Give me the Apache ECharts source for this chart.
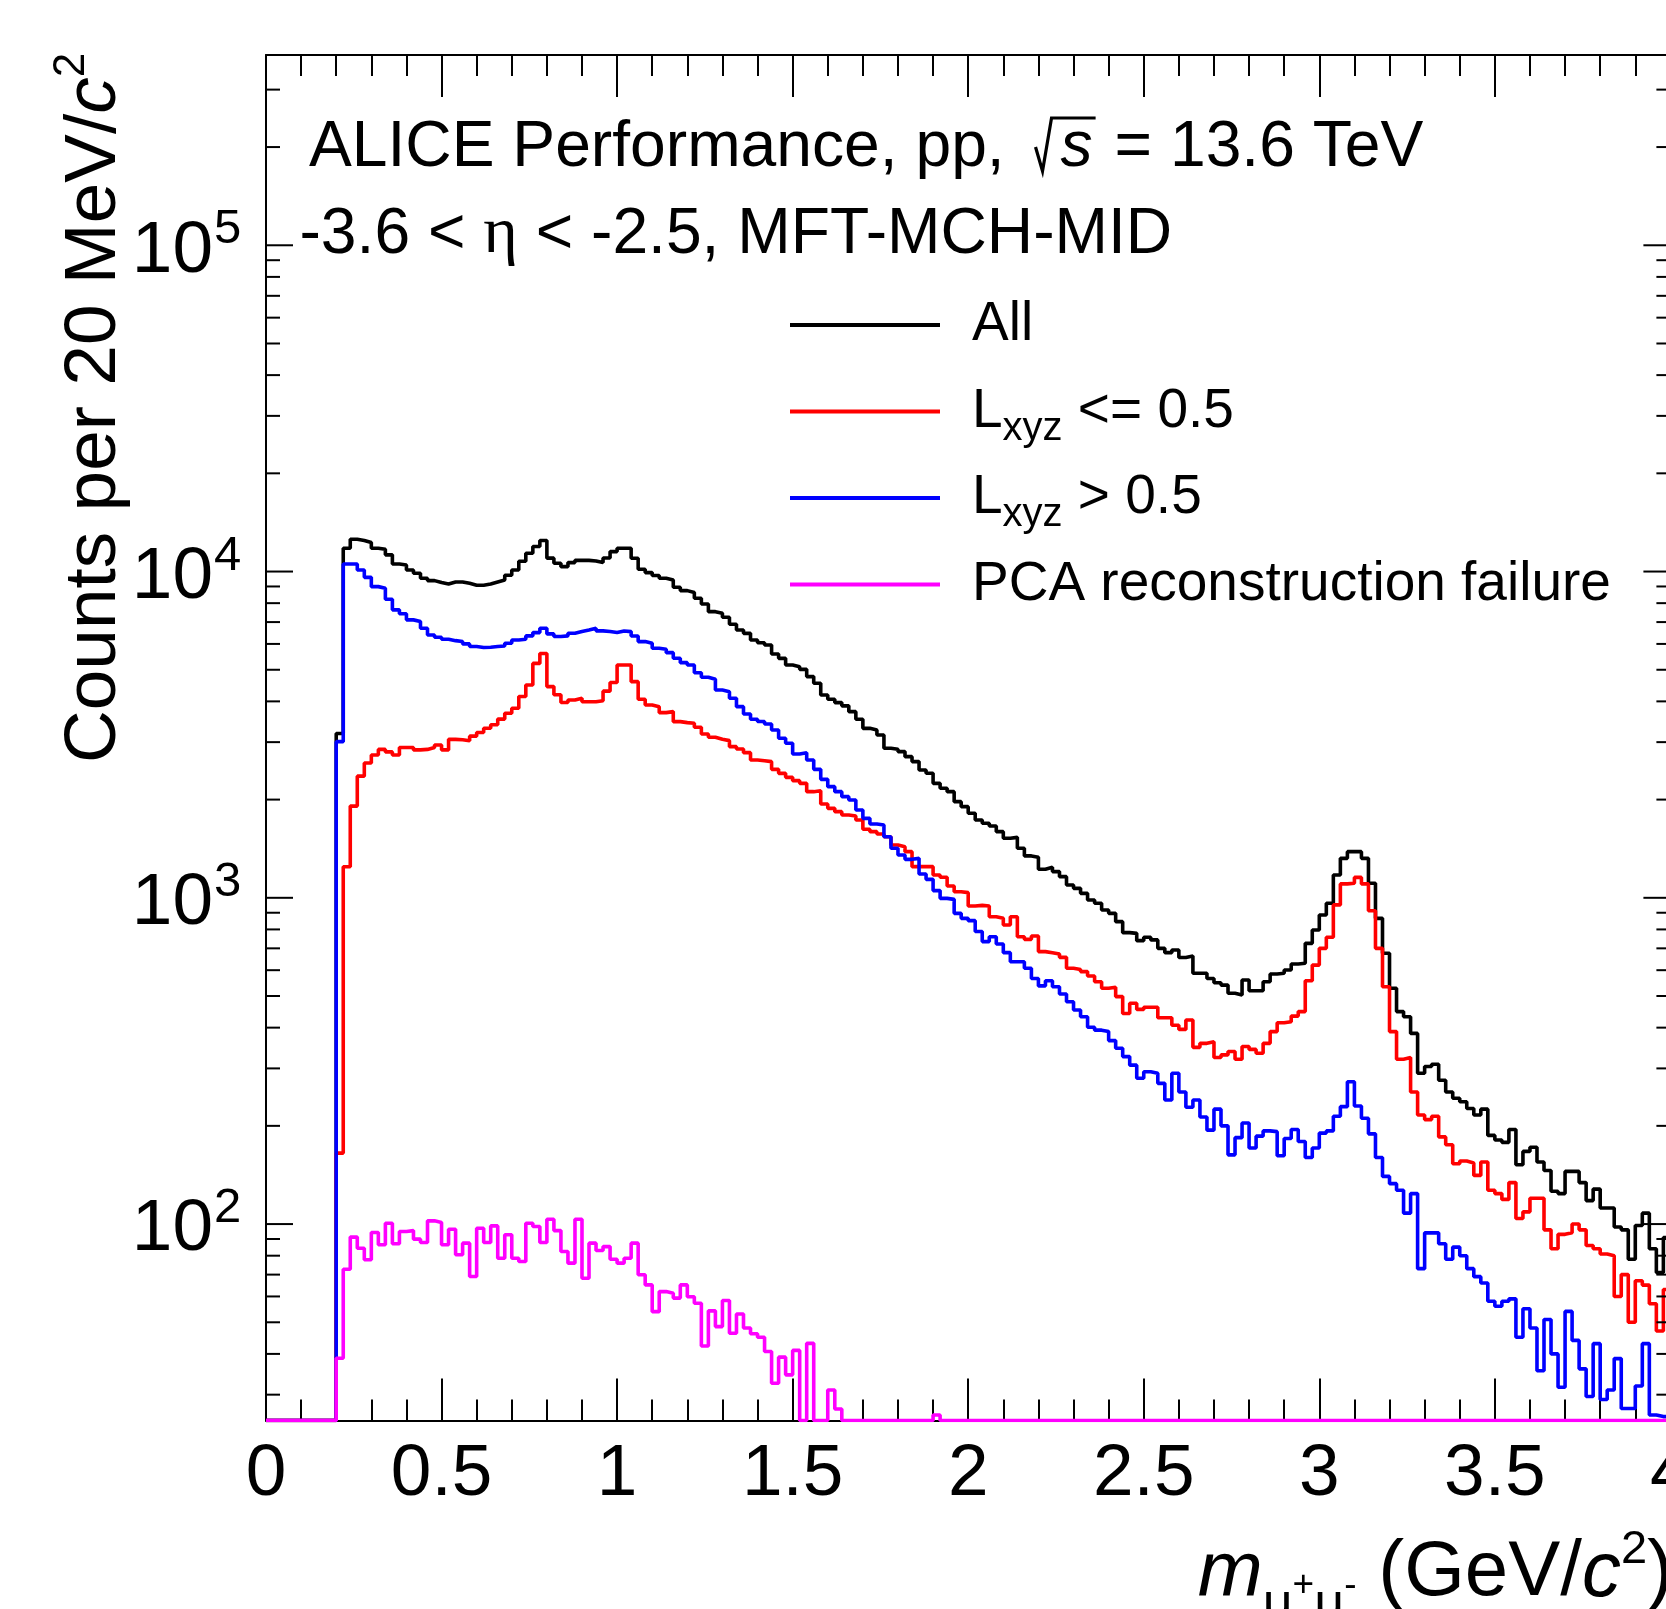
<!DOCTYPE html>
<html>
<head>
<meta charset="utf-8">
<script src="https://cdn.jsdelivr.net/npm/echarts@6/dist/echarts.min.js"></script>
<style>
html,body{margin:0;padding:0;background:#ffffff;}
#chart{width:1666px;height:1609px;}
</style>
</head>
<body>
<div id="chart"></div>
<script>
// ---------------- data ----------------
// dimuon invariant mass histogram, 20 MeV/c^2 bins from 0 to 4 GeV/c^2 (200 bins)
const BIN_WIDTH = 0.02;
const X_MIN = 0, X_MAX = 4;
const Y_MIN = 25, Y_MAX = 383000;

const SERIES_NAMES = ['All', 'Lxyz <= 0.5', 'Lxyz > 0.5', 'PCA reconstruction failure'];
const SERIES_COLORS = ['#000000', '#ff0000', '#0000ff', '#ff00ff'];

const COUNTS_ALL = [
  0,0,0,0,0,0,0,0,0,0,
  3190,11790,12560,12450,12280,11790,11700,11250,10550,10470,
  10110,9880,9540,9380,9250,9160,9290,9290,9200,9080,
  9080,9160,9290,9420,9740,10110,10750,11380,11930,12450,
  10990,10600,10350,10650,10820,10820,10770,10650,11000,11510,
  11790,11790,10980,10160,9925,9720,9535,9425,8950,8740,
  8620,8280,7955,7535,7450,7240,6895,6620,6465,6170,
  6050,5955,5590,5420,5170,5110,5015,4765,4545,4185,
  4060,3965,3875,3720,3525,3307,3269,3155,2872,2852,
  2806,2708,2615,2465,2408,2243,2166,2115,1971,1903,
  1816,1732,1692,1660,1595,1522,1532,1418,1344,1331,
  1223,1240,1203,1161,1095,1069,1032,985,962,918,
  896,845,782,778,739,757,743,700,679,692,
  656,663,587,587,566,549,540,510,504,560,
  519,519,553,584,587,601,627,630,725,797,
  886,962,1175,1321,1385,1385,1321,1108,865,676,
  528,448,432,384,290,304,309,276,254,243,
  237,226,216,225,187,181,178,195,152,167,
  172,155,146,126,124,145,145,134,118,128,
  112,112,98,96,78,99,108,84,71,91
];

const COUNTS_LXYZ_LE = [
  0,0,0,0,0,0,0,0,0,0,
  165,1245,1910,2360,2590,2740,2850,2800,2740,2890,
  2890,2840,2850,2890,2940,2840,3060,3050,3030,3130,
  3210,3310,3390,3530,3680,3810,4140,4490,5230,5610,
  4440,4190,3970,4040,4090,3990,3990,4020,4300,4570,
  5172,5172,4598,4059,3899,3854,3694,3721,3467,3443,
  3426,3331,3178,3104,3061,3032,2906,2858,2785,2645,
  2630,2614,2476,2407,2340,2286,2243,2115,2130,1939,
  1880,1837,1794,1782,1732,1622,1595,1569,1539,1451,
  1434,1385,1246,1246,1246,1175,1156,1087,1044,1037,
  944,948,944,875,865,825,875,760,746,764,
  684,679,673,657,608,603,594,576,553,528,
  532,498,442,475,455,462,462,429,429,407,
  395,422,348,358,362,324,330,338,320,350,
  343,334,358,389,414,417,434,448,557,622,
  700,757,951,1103,1108,1155,1103,913,700,534,
  389,320,324,254,216,209,214,185,175,153,
  156,154,141,155,127,124,119,134,104,109,
  120,120,96,84,93,94,100,96,86,84,
  81,80,60,70,50,67,65,57,47,63
];

const COUNTS_LXYZ_GT = [
  0,0,0,0,0,0,0,0,0,0,
  3010,10550,10550,10110,9600,8990,8890,8220,7630,7420,
  7110,7030,6700,6390,6290,6200,6140,6100,6000,5890,
  5850,5860,5890,5910,6030,6170,6200,6350,6500,6700,
  6440,6320,6350,6470,6550,6620,6700,6580,6550,6500,
  6575,6545,6345,6100,6025,5817,5776,5642,5422,5258,
  5172,4898,4740,4674,4335,4284,4088,3854,3660,3525,
  3470,3410,3269,3083,2975,2759,2785,2645,2476,2307,
  2191,2115,2042,1994,1858,1752,1684,1672,1539,1418,
  1353,1312,1321,1183,1139,1052,996,989,896,865,
  851,788,734,760,722,679,637,637,608,566,
  537,557,534,507,480,453,432,401,393,389,
  365,346,326,307,280,293,290,270,240,290,
  254,228,240,213,194,225,200,163,184,204,
  171,186,193,192,162,183,195,179,160,171,
  190,193,214,229,273,230,211,189,160,140,
  133,127,108,124,73,94,94,87,78,85,
  80,73,69,66,58,56,58,59,45,55,
  48,35.5,51,40,31.6,54,44,36,29.6,43,
  29,31,38.7,27.2,27.2,31.9,43,26,25.7,25.7
];

const COUNTS_PCA_FAIL = [
  0,0,0,0,0,0,0,0,0,0,
  38.8,72.7,91.2,84.3,77.7,94.2,86.4,100.6,87.0,94.9,
  95.5,89.9,87.8,102.3,101.1,86.4,96.4,80.5,87.4,69.1,
  97.1,87.8,98.7,78.6,92.7,78.6,76.8,100.6,98.3,87.8,
  103.5,95.5,82.4,75.9,103.5,68.2,87.4,83.0,85.3,78.0,
  75.9,78.6,87.4,69.9,65.1,53.9,62.1,61.4,59.3,65.1,
  59.9,57.2,42.3,54.2,48.5,58.3,46.3,53.0,48.0,46.1,
  45.0,40.7,32.5,39.1,34.5,41.0,0,43.1,0,0,
  31.0,27.1,0,0,0,0,0,0,0,0,
  0,0,0,0,0,26,0,0,0,0,
  0,0,0,0,0,0,0,0,0,0,
  0,0,0,0,0,0,0,0,0,0,
  0,0,0,0,0,0,0,0,0,0,
  0,0,0,0,0,0,0,0,0,0,
  0,0,0,0,0,0,0,0,0,0,
  0,0,0,0,0,0,0,0,0,0,
  0,0,0,0,0,0,0,0,0,0,
  0,0,0,0,0,0,0,0,0,0,
  0,0,0,0,0,0,0,0,0,0,
  0,0,0,0,0,0,0,0,0,0
];

// axis ticks / labels
const X_MAJOR_STEP = 0.5;
const Y_MAJOR_TICKS = [100, 1000, 10000, 100000];
const Y_MAJOR_LABELS = [['10', '2'], ['10', '3'], ['10', '4'], ['10', '5']];
const Y_MINOR_TICKS = [30, 40, 50, 60, 70, 80, 90,
  200, 300, 400, 500, 600, 700, 800, 900,
  2000, 3000, 4000, 5000, 6000, 7000, 8000, 9000,
  20000, 30000, 40000, 50000, 60000, 70000, 80000, 90000,
  200000, 300000];

// ---------------- helpers ----------------
const SANS = "'Liberation Sans', Arial, Helvetica, sans-serif";
const SERIF = "'Liberation Serif', 'DejaVu Serif', serif";
const measureCtx = document.createElement('canvas').getContext('2d');
function textWidth(str, font) { measureCtx.font = font; return measureCtx.measureText(str).width; }

function stepData(counts) {
  const pts = counts.map(function (c, i) {
    return [Math.round(i * BIN_WIDTH * 100) / 100, c > 0 ? c : Y_MIN];
  });
  pts.push([X_MAX, pts[pts.length - 1][1]]);
  return pts;
}

// rich-text baseline control
const RD = 60, RLH = 170;
function tk(fs, shift, extra) {
  return Object.assign({
    fontSize: fs, fontFamily: SANS, fill: '#000', color: '#000',
    lineHeight: RLH, verticalAlign: 'bottom',
    padding: [0, 0, RD - 0.1535 * fs + shift, 0]
  }, extra || {});
}
function richText(x, baseline, text, rich, align) {
  const a = align || 'left';
  return {
    type: 'text', x: x, y: baseline + RD, silent: true, z: 50,
    style: { text: text, rich: rich, fill: '#000', fontFamily: SANS,
      align: a, verticalAlign: 'bottom', textAlign: a, textVerticalAlign: 'bottom' }
  };
}

function yTickItem(len, labels) {
  return function (params, api) {
    const v = api.value(1);
    const l = api.coord([X_MIN, v]);
    const r = api.coord([X_MAX, v]);
    const kids = [
      { type: 'line', shape: { x1: l[0], y1: l[1], x2: l[0] + len, y2: l[1] }, style: { stroke: '#000', lineWidth: 2 } },
      { type: 'line', shape: { x1: r[0] - len, y1: r[1], x2: r[0], y2: r[1] }, style: { stroke: '#000', lineWidth: 2 } }
    ];
    if (labels) {
      const lab = labels[params.dataIndex];
      kids.push({ type: 'text', x: l[0] - 53, y: l[1] + 6.3,
        style: { text: lab[0], fontSize: 73, fontFamily: SANS, fill: '#000',
          align: 'right', verticalAlign: 'middle', textAlign: 'right', textVerticalAlign: 'middle' } });
      kids.push({ type: 'text', x: l[0] - 52, y: l[1] - 15.4,
        style: { text: lab[1], fontSize: 49, fontFamily: SANS, fill: '#000',
          align: 'left', verticalAlign: 'middle', textAlign: 'left', textVerticalAlign: 'middle' } });
    }
    return { type: 'group', children: kids };
  };
}

// ---------------- layout ----------------
const GRID = { left: 266, top: 55, width: 1404.4, height: 1365.5 };
const CURVE_WIDTH = 3.6;

const TITLE_FS = 64.2;
const T1_X = 309, T1_B = 170, T2_X = 299.5, T2_B = 257;
const prefix1 = 'ALICE Performance, pp, ';
const xg = T1_X + textWidth(prefix1, TITLE_FS + 'px ' + SANS);
const GAP1 = 38;
const ws = textWidth('s', 'italic ' + TITLE_FS + 'px ' + SANS);

const graphics = [];
graphics.push(richText(T1_X, T1_B,
  '{n|' + prefix1 + '}{g1| }{si|s}{g2| }{n|= 13.6 TeV}',
  { n: tk(TITLE_FS, 0), g1: tk(TITLE_FS, 0, { width: GAP1 }), si: tk(TITLE_FS, 0, { fontStyle: 'italic' }),
    g2: tk(TITLE_FS, 0, { width: 22 }) }));
graphics.push({ type: 'polyline', silent: true, z: 50,
  shape: { points: [[xg + 13, T1_B - 23], [xg + 20, T1_B + 1], [xg + 29, T1_B - 52], [xg + GAP1 + ws + 3, T1_B - 52]] },
  style: { stroke: '#000', lineWidth: 3.2, fill: null } });
graphics.push(richText(T2_X, T2_B,
  '{n|-3.6 < }{e|η}{n| < -2.5, MFT-MCH-MID}',
  { n: tk(TITLE_FS, 0), e: tk(TITLE_FS + 2, 0, { fontFamily: SERIF }) }));

// legend
const LEG_X1 = 790, LEG_X2 = 940, LEG_TX = 972;
const LEG_Y = [325, 411.5, 498, 584.5];
const LEG_TEXT = [
  '{n|All}',
  '{n|L}{sb|xyz}{n| <= 0.5}',
  '{n|L}{sb|xyz}{n| > 0.5}',
  '{n|PCA reconstruction failure}'
];
const legRich = { n: tk(55, 0), sb: tk(40, -12) };
for (let k = 0; k < 4; k++) {
  graphics.push({ type: 'line', silent: true, z: 50,
    shape: { x1: LEG_X1, y1: LEG_Y[k], x2: LEG_X2, y2: LEG_Y[k] },
    style: { stroke: SERIES_COLORS[k], lineWidth: 4 } });
  graphics.push(richText(LEG_TX, LEG_Y[k] + 19, LEG_TEXT[k], legRich));
}

// y axis title (rotated)
graphics.push({
  type: 'text', x: 120 + RD, y: 763, rotation: Math.PI / 2, silent: true, z: 50,
  style: { text: '{n|Counts per 20 MeV/}{i|c}{sp|2}',
    rich: { n: tk(73, 0), i: tk(73, 0, { fontStyle: 'italic' }), sp: tk(44, 33) },
    fill: '#000', align: 'left', verticalAlign: 'bottom', textAlign: 'left', textVerticalAlign: 'bottom' }
});

// x axis title
graphics.push(richText(1673, 1601,
  '{i|m}{sb|μ}{ss|+}{sb|μ}{ss|-}{n| (GeV/}{i|c}{sp|2}{n|)}',
  { i: tk(78, 0, { fontStyle: 'italic' }), n: tk(78, 0), sb: tk(52, -22), ss: tk(37, 2), sp: tk(47, 35) },
  'right'));

// ---------------- chart ----------------
const chart = echarts.init(document.getElementById('chart'), null, { renderer: 'canvas' });

function xAxisCfg(pos, showLabel) {
  return {
    type: 'value', position: pos, min: X_MIN, max: X_MAX, interval: X_MAJOR_STEP,
    axisLine: { show: true, onZero: false, lineStyle: { color: '#000', width: 2 } },
    axisTick: { show: true, inside: true, length: 42, lineStyle: { color: '#000', width: 2 } },
    minorTick: { show: true, splitNumber: 5, length: 21, lineStyle: { color: '#000', width: 2 } },
    axisLabel: { show: showLabel, fontSize: 73, fontFamily: SANS, color: '#000', margin: 17.5 },
    splitLine: { show: false }, minorSplitLine: { show: false }
  };
}

const lineSeries = [COUNTS_ALL, COUNTS_LXYZ_LE, COUNTS_LXYZ_GT, COUNTS_PCA_FAIL].map(function (arr, k) {
  return {
    name: SERIES_NAMES[k], type: 'line', step: 'end', xAxisIndex: 0, yAxisIndex: 0,
    data: stepData(arr), showSymbol: false, symbol: 'none', silent: true, clip: true,
    lineStyle: { color: SERIES_COLORS[k], width: CURVE_WIDTH }, itemStyle: { color: SERIES_COLORS[k] },
    z: 3 + k, animation: false
  };
});

const option = {
  animation: false,
  backgroundColor: '#ffffff',
  textStyle: { fontFamily: SANS },
  grid: Object.assign({ containLabel: false, outerBoundsMode: 'none' }, GRID),
  xAxis: [xAxisCfg('bottom', true), xAxisCfg('top', false)],
  yAxis: [{
    type: 'log', logBase: 10, min: Y_MIN, max: Y_MAX, position: 'left',
    axisLine: { show: true, onZero: false, lineStyle: { color: '#000', width: 2 } },
    axisTick: { show: false }, axisLabel: { show: false },
    splitLine: { show: false }, minorTick: { show: false }
  }],
  series: lineSeries.concat([
    { type: 'custom', xAxisIndex: 0, yAxisIndex: 0, silent: true, clip: false, z: 20, animation: false,
      data: Y_MAJOR_TICKS.map(function (v) { return [X_MIN, v]; }),
      renderItem: yTickItem(27, Y_MAJOR_LABELS) },
    { type: 'custom', xAxisIndex: 0, yAxisIndex: 0, silent: true, clip: false, z: 20, animation: false,
      data: Y_MINOR_TICKS.map(function (v) { return [X_MIN, v]; }),
      renderItem: yTickItem(14, null) }
  ]),
  graphic: { elements: graphics }
};
chart.setOption(option);
</script>
</body>
</html>
